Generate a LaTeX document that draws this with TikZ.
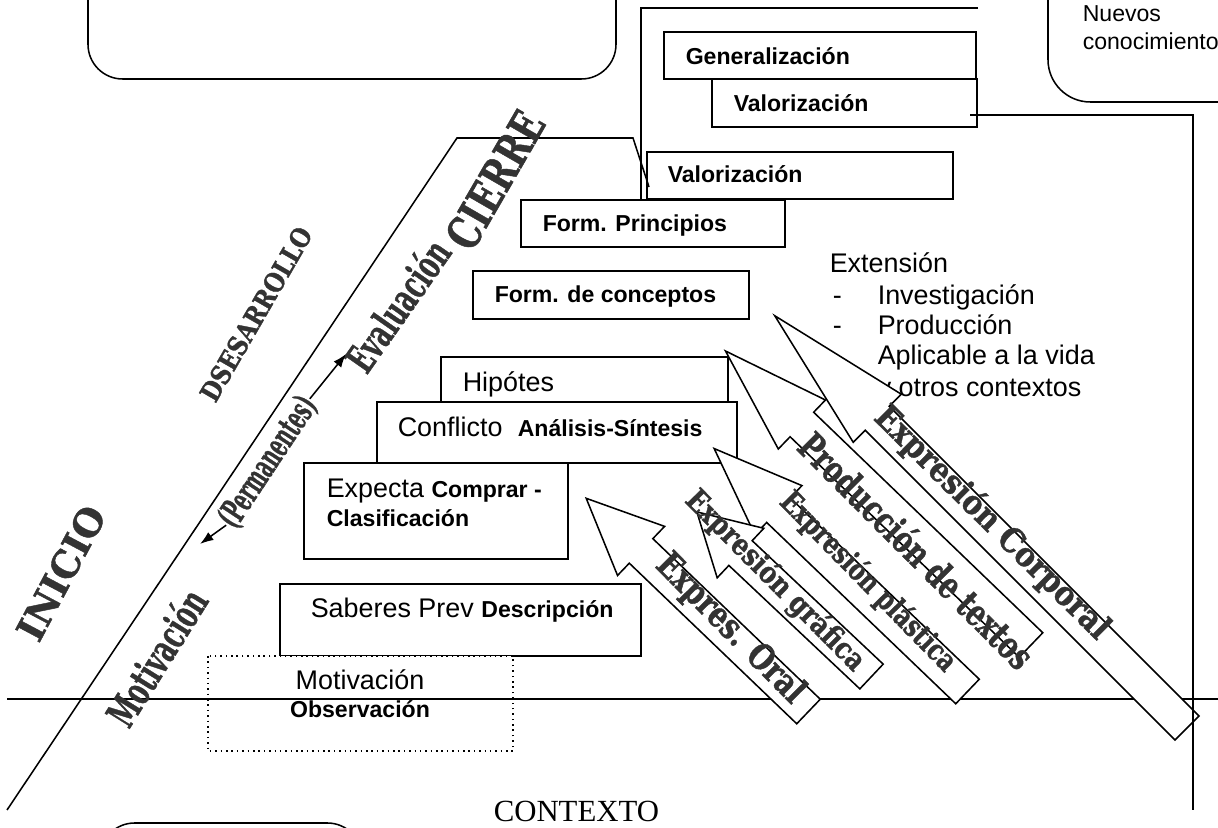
\documentclass[tikz,border=0pt]{standalone}
\usepackage{graphicx}
\usepackage{fontspec}
\setmainfont{Liberation Sans}
\newfontfamily\timesfont{Liberation Serif}
\newfontfamily\artfont{DejaVu Serif}[BoldFeatures={FakeBold=1.2}]
\usetikzlibrary{arrows.meta}

\newlength\pxu
\setlength\pxu{0.52pt}
\newcommand{\txtreg}{\fontsize{14}{16}\selectfont}
\newcommand{\txtbold}{\fontsize{12}{14}\selectfont\bfseries}
\newcommand{\wordart}[3]{\resizebox{#1\pxu}{#2\pxu}{\artfont\bfseries #3}}

\tikzset{
  stepbox/.style={draw, fill=white, line width=0.8pt},
  lbl/.style={anchor=base west, inner sep=0pt},
  mid/.style={anchor=base, inner sep=0pt},
  art/.style={inner sep=0pt, text=black!80},
  blockarrow/.style={draw, fill=white, line width=0.8pt, line join=miter},
}

\begin{document}
\begin{tikzpicture}[x=0.52pt, y=-0.52pt, line width=0.8pt]
\useasboundingbox (0,0) rectangle (1218,828);
\clip (0,0) rectangle (1218,828);

% rounded boxes at the borders
\draw[rounded corners=18pt] (88,-60) rectangle (616,79);
\draw[rounded corners=22pt] (1048,-60) rectangle (1300,102);
\draw[rounded corners=18pt] (100,823) rectangle (362,900);
\node[lbl] (nuevos) at (1082,22) {\fontsize{12}{14}\selectfont Nuevos};
\node[lbl] (conoc) at (1082,50) {\fontsize{12}{14}\selectfont conocimientos};

% frame round the top boxes
\draw (978,8) -- (641,8) -- (641,199);

% steps
\draw[stepbox] (664,32) rectangle (976,79);
\node[lbl] (gen) at (685,65) {\txtbold Generalización};
\draw[stepbox] (712,79) rectangle (977,127);
\node[lbl] (valB) at (733,112) {\txtbold Valorización};
\draw[stepbox] (647,152) rectangle (953,199);
\node[lbl] (valA) at (667,183) {\txtbold Valorización};
\draw[stepbox] (521,200) rectangle (785,247);
\node[lbl] (formP) at (542,232) {\txtbold Form. Principios};
\draw[stepbox] (473,271) rectangle (749,319);
\node[lbl] (formC) at (494,303) {\txtbold Form. de conceptos};
\draw[stepbox] (441,357) rectangle (728,402);
\node[lbl] (hip) at (462,392) {\txtreg Hipótes};
\draw[stepbox] (377,402) rectangle (737,463);
\node[lbl] (conf) at (397,437) {\txtreg Conflicto};
\node[lbl] (anal) at (517,437) {\txtbold Análisis-Síntesis};
\draw[stepbox] (304,463) rectangle (568,559);
\node[lbl] (expA) at (326,498) {\txtreg Expecta {\txtbold Comprar -}};
\node[lbl] (expB) at (326,527) {\txtbold Clasificación};
\draw[stepbox] (280,584) rectangle (641,656);
\node[lbl] (sab) at (310,618) {\txtreg Saberes Prev {\txtbold Descripción}};
\draw[stepbox, dotted, line width=0.6pt] (208,656) rectangle (513,751);
\node[mid] (motA) at (360,690) {\txtreg Motivación};
\node[mid] (motB) at (360,718) {\txtbold Observación};

% extension list
\node[lbl] (ext) at (829,273) {\txtreg Extensión};
\node[lbl] (dashA) at (832,305) {\txtreg -};
\node[lbl] (inv) at (877,305) {\txtreg Investigación};
\node[lbl] (dashB) at (832,335) {\txtreg -};
\node[lbl] (prod) at (877,335) {\txtreg Producción};
\node[lbl] (apli) at (877,365) {\txtreg Aplicable a la vida};
\node[lbl] (otros) at (877,397) {\txtreg y otros contextos};

% context line
\draw (7,699) -- (1218,699);
\node[lbl] (ctx) at (493,822) {\fontsize{16}{18}\timesfont CONTEXTO};

% big diagonal
\draw (7,810) -- (457,138) -- (633,138) -- (649,187);

% block arrows
\foreach \tx/\ty/\ang/\len/\hl in {1187/728/135/583/145, 1031/645/136.1/424/106,
  967.5/691.5/136.2/351/89, 871.5/676.5/136.7/240/60, 808.5/711.5/136.2/308/76}{
\draw[blockarrow, shift={(\tx,\ty)}, rotate=\ang] (0,-17) -- ({\len-\hl},-17)
  -- ({\len-\hl},-34) -- (\len,0) -- ({\len-\hl},34) -- ({\len-\hl},17) -- (0,17) -- cycle;
}
\node[art, rotate=-45.2] (oral) at (730,629) {\wordart{195}{27}{Expres. Oral}};
\node[art, rotate=-45.2] (graf) at (775,581) {\wordart{241}{24}{Expresión gráfica}};
\node[art, rotate=-45.6] (plas) at (868,582) {\wordart{238}{24}{Expresión plástica}};
\node[art, rotate=-45.1] (text) at (917,550) {\wordart{315}{30}{Producción de textos}};
\node[art, rotate=-44.7] (corp) at (992,523) {\wordart{316}{27}{Expresión Corporal}};

% line from Valorizacion down the right side
\coordinate (vstart) at (970,115);
\coordinate (rend) at (1193,810);
\draw (vstart) -| (rend);

% phases along the diagonal
\node[art, rotate=62] (inicio) at (61,573) {\wordart{146}{28}{INICIO}};
\node[art, rotate=60] (desa) at (256,314) {\wordart{196}{20}{DSESARROLLO}};
\node[art, rotate=58] (motiv) at (156,657) {\wordart{152}{32}{Motivación}};
\node[art, rotate=56.5] (perm) at (268,462) {\wordart{150}{26}{(Permanentes)}};
\node[art, rotate=55] (eval) at (397,305) {\wordart{150}{32}{Evaluación}};
\node[art, rotate=60] (cierre) at (495,180) {\wordart{150}{34}{CIERRE}};
\coordinate (evaltip) at (346,354);
\coordinate (motitip) at (200,544);
\draw[-{Latex[length=7pt,width=5pt]}] (perm.east) -- (evaltip);
\draw[-{Latex[length=7pt,width=5pt]}] (perm.west) -- (motitip);
\end{tikzpicture}
\end{document}
